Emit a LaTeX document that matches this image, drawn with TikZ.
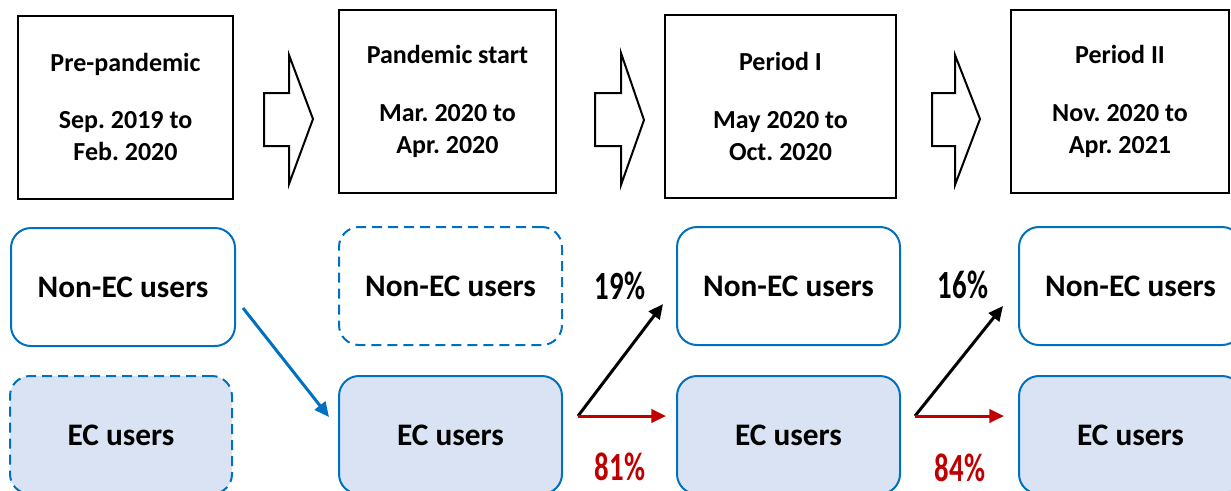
\documentclass[tikz,border=0pt]{standalone}
\usepackage{fontspec}
\setmainfont{Carlito}
\usetikzlibrary{arrows.meta}
\frenchspacing
\definecolor{ecblue}{RGB}{0,112,192}
\definecolor{ecfill}{RGB}{218,227,243}
\definecolor{ecred}{RGB}{192,0,0}
\tikzset{
  period/.style={draw, line width=1.5pt, minimum height=183*0.75pt, align=center, inner sep=0pt, font=\bfseries\fontsize{19.5}{24}\selectfont},
  usersbox/.style={draw=ecblue, line width=1.5pt, rounded corners=15pt, minimum width=223*0.75pt, minimum height=118*0.75pt, inner sep=0pt, font=\bfseries\fontsize{23.5}{28}\selectfont},
  nonec/.style={usersbox, fill=white},
  ec/.style={usersbox, fill=ecfill},
  absent/.style={dash pattern=on 7.5pt off 4.5pt},
  shiftarrow/.style={draw, line width=1.5pt, line join=miter, fill=white},
  flow/.style={line width=2.25pt, -{Triangle[length=11pt,width=10pt]}},
  share/.style={inner sep=0pt, font=\bfseries\fontsize{30}{30}\selectfont},
}
\begin{document}
\begin{tikzpicture}[x=0.75pt,y=0.75pt,yscale=-1,xscale=1]
\useasboundingbox (0,0) rectangle (1231,490);
\clip (0,0) rectangle (1231,490);

%Periods
\node [period, minimum width=215*0.75pt] (pre) at (125.5,107) {Pre-pandemic\\[19pt]Sep. 2019 to\\Feb. 2020};
\node [period, minimum width=217*0.75pt] (start) at (447.5,101.5) {Pandemic start\\[19pt]Mar. 2020 to\\Apr. 2020};
\node [period, minimum width=231*0.75pt] (per1) at (780.5,106.5) {Period I\\[19pt]May 2020 to\\Oct. 2020};
\node [period, minimum width=218*0.75pt] (per2) at (1120,101.5) {Period II\\[19pt]Nov. 2020 to\\Apr. 2021};

%Block arrows
\draw [shiftarrow] (264,93) -- (289,93) -- (289,55) -- (313,119) -- (289,184) -- (289,146) -- (264,146) -- cycle ;
\draw [shiftarrow] (595,93) -- (621,93) -- (621,53) -- (644,120) -- (621,185) -- (621,146) -- (595,146) -- cycle ;
\draw [shiftarrow] (932,93) -- (955,93) -- (955,55) -- (980,119) -- (955,185) -- (955,146) -- (932,146) -- cycle ;

%User groups
\node [nonec, minimum width=224*0.75pt] (ne1) at (123,287) {Non-EC users};
\node [ec, absent, minimum width=222*0.75pt] (ec1) at (121,435) {EC users};
\node [nonec, absent] (ne2) at (450.5,286) {Non-EC users};
\node [ec] (ec2) at (450.5,435) {EC users};
\node [nonec] (ne3) at (788.5,286) {Non-EC users};
\node [ec] (ec3) at (788.5,435) {EC users};
\node [nonec] (ne4) at (1130.5,286) {Non-EC users};
\node [ec] (ec4) at (1130.5,435) {EC users};

%Transitions
\coordinate (from1) at (243,308);
\coordinate (to1) at (329,417);
\draw [flow, ecblue] (from1) -- (to1);
\coordinate (fork1) at (578,416);
\coordinate (up1) at (663,304);
\coordinate (stay1) at (666,416);
\draw [flow] (fork1) -- (up1);
\draw [flow, ecred] (fork1) -- (stay1);
\coordinate (fork2) at (915,416);
\coordinate (up2) at (1003,306);
\coordinate (stay2) at (1004,416);
\draw [flow] (fork2) -- (up2);
\draw [flow, ecred] (fork2) -- (stay2);

% Text Node
\node [share] (s19) at (620,286) {\scalebox{0.72}[1]{19\%}};
% Text Node
\node [share, ecred] (s81) at (620,467) {\scalebox{0.72}[1]{81\%}};
% Text Node
\node [share] (s16) at (963,285) {\scalebox{0.72}[1]{16\%}};
% Text Node
\node [share, ecred] (s84) at (960,468) {\scalebox{0.72}[1]{84\%}};

\end{tikzpicture}
\end{document}
